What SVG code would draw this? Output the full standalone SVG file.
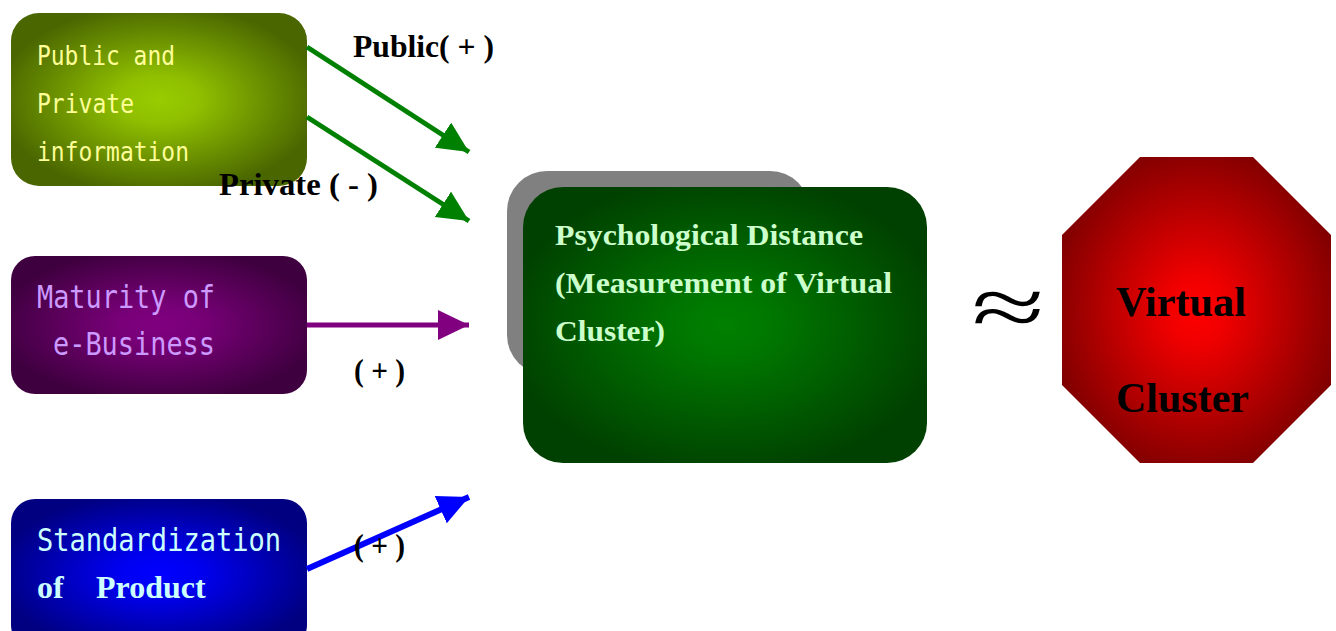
<svg xmlns="http://www.w3.org/2000/svg" width="1336" height="631" viewBox="0 0 1336 631">
<defs>
<radialGradient id="gY" cx="50%" cy="50%" r="55%"><stop offset="0" stop-color="#99cc00"/><stop offset="0.25" stop-color="#8fbf00"/><stop offset="1" stop-color="#4a6600"/></radialGradient>
<radialGradient id="gP" cx="50%" cy="50%" r="55%"><stop offset="0" stop-color="#800080"/><stop offset="0.25" stop-color="#780078"/><stop offset="1" stop-color="#3f003f"/></radialGradient>
<radialGradient id="gB" cx="50%" cy="50%" r="55%"><stop offset="0" stop-color="#0000ff"/><stop offset="0.25" stop-color="#0000f0"/><stop offset="1" stop-color="#000080"/></radialGradient>
<radialGradient id="gG" cx="50%" cy="50%" r="55%"><stop offset="0" stop-color="#008000"/><stop offset="0.2" stop-color="#007800"/><stop offset="1" stop-color="#004000"/></radialGradient>
<radialGradient id="gR" cx="50%" cy="50%" r="55%"><stop offset="0" stop-color="#ff0000"/><stop offset="0.2" stop-color="#f00000"/><stop offset="1" stop-color="#800000"/></radialGradient>
<marker id="mG" markerUnits="userSpaceOnUse" markerWidth="32" markerHeight="32" refX="31" refY="15" orient="auto"><path d="M0,0 L31,15 L0,30 Z" fill="#008000"/></marker>
<marker id="mP" markerUnits="userSpaceOnUse" markerWidth="32" markerHeight="32" refX="31" refY="15" orient="auto"><path d="M0,0 L31,15 L0,30 Z" fill="#800080"/></marker>
<marker id="mB" markerUnits="userSpaceOnUse" markerWidth="32" markerHeight="32" refX="31" refY="15" orient="auto"><path d="M0,0 L31,15 L0,30 Z" fill="#0000ff"/></marker>
</defs>
<style>
.mono{font-family:"DejaVu Sans Mono","Liberation Mono",monospace;}
.serifb{font-family:"Liberation Serif","Times New Roman",serif;font-weight:bold;}
.lbl{font-family:"Liberation Serif",serif;font-weight:bold;font-size:32px;fill:#000;}
</style>
<g id="node-info">
<rect x="11" y="13" width="296" height="173" rx="28" fill="url(#gY)"/>
<text class="mono" font-size="27" fill="#ffff99"><tspan x="37" y="65" textLength="138" lengthAdjust="spacingAndGlyphs">Public and</tspan><tspan x="37" y="113" textLength="97" lengthAdjust="spacingAndGlyphs">Private</tspan><tspan x="37" y="161" textLength="152" lengthAdjust="spacingAndGlyphs">information</tspan></text>
</g>
<g id="node-maturity">
<rect x="11" y="256" width="296" height="138" rx="24" fill="url(#gP)"/>
<text class="mono" font-size="32" fill="#cc99ff"><tspan x="37" y="308" textLength="178" lengthAdjust="spacingAndGlyphs">Maturity of</tspan><tspan x="53" y="355" textLength="162" lengthAdjust="spacingAndGlyphs">e-Business</tspan></text>
</g>
<g id="node-standard">
<rect x="11" y="499" width="296" height="150" rx="24" fill="url(#gB)"/>
<text class="mono" font-size="32" fill="#ccffff" x="37" y="551" textLength="244" lengthAdjust="spacingAndGlyphs">Standardization</text>
<text class="serifb" font-size="32" fill="#ccffff"><tspan x="37" y="598">of</tspan><tspan x="96" y="598">Product</tspan></text>
</g>
<g id="node-psych">
<rect x="507" y="171" width="303" height="204" rx="40" fill="#808080"/>
<rect x="523" y="187" width="404" height="276" rx="40" fill="url(#gG)"/>
<text class="serifb" font-size="30" fill="#ccffcc"><tspan x="555" y="245" textLength="308" lengthAdjust="spacingAndGlyphs">Psychological Distance</tspan><tspan x="555" y="293" textLength="337" lengthAdjust="spacingAndGlyphs">(Measurement of Virtual</tspan><tspan x="555" y="341" textLength="110" lengthAdjust="spacingAndGlyphs">Cluster)</tspan></text>
</g>
<g id="approx">
<text transform="translate(1008,336) scale(1.55,1)" x="0" y="0" font-family="Liberation Serif,serif" font-size="86" text-anchor="middle" fill="#000">≈</text>
</g>
<g id="node-cluster">
<polygon points="1140,157 1253,157 1331,235 1331,385 1253,463 1140,463 1062,385 1062,235" fill="url(#gR)"/>
<text class="serifb" font-size="42" fill="#000"><tspan x="1116" y="316" textLength="130" lengthAdjust="spacingAndGlyphs">Virtual</tspan><tspan x="1116" y="412" textLength="133" lengthAdjust="spacingAndGlyphs">Cluster</tspan></text>
</g>
<g id="connectors">
<line x1="307" y1="47" x2="469" y2="152" stroke="#008000" stroke-width="5" marker-end="url(#mG)"/>
<line x1="307" y1="117" x2="469" y2="221" stroke="#008000" stroke-width="5" marker-end="url(#mG)"/>
<line x1="307" y1="325" x2="469" y2="325" stroke="#800080" stroke-width="5" marker-end="url(#mP)"/>
<line x1="307" y1="569" x2="469" y2="497" stroke="#0000ff" stroke-width="6" marker-end="url(#mB)"/>
<text class="lbl" x="353" y="57" textLength="141" lengthAdjust="spacingAndGlyphs">Public( + )</text>
<text class="lbl" x="219" y="195" textLength="159" lengthAdjust="spacingAndGlyphs">Private ( - )</text>
<text class="lbl" x="354" y="381" textLength="51" lengthAdjust="spacingAndGlyphs">( + )</text>
<text class="lbl" x="354" y="556" textLength="51" lengthAdjust="spacingAndGlyphs">( + )</text>
</g>
</svg>
